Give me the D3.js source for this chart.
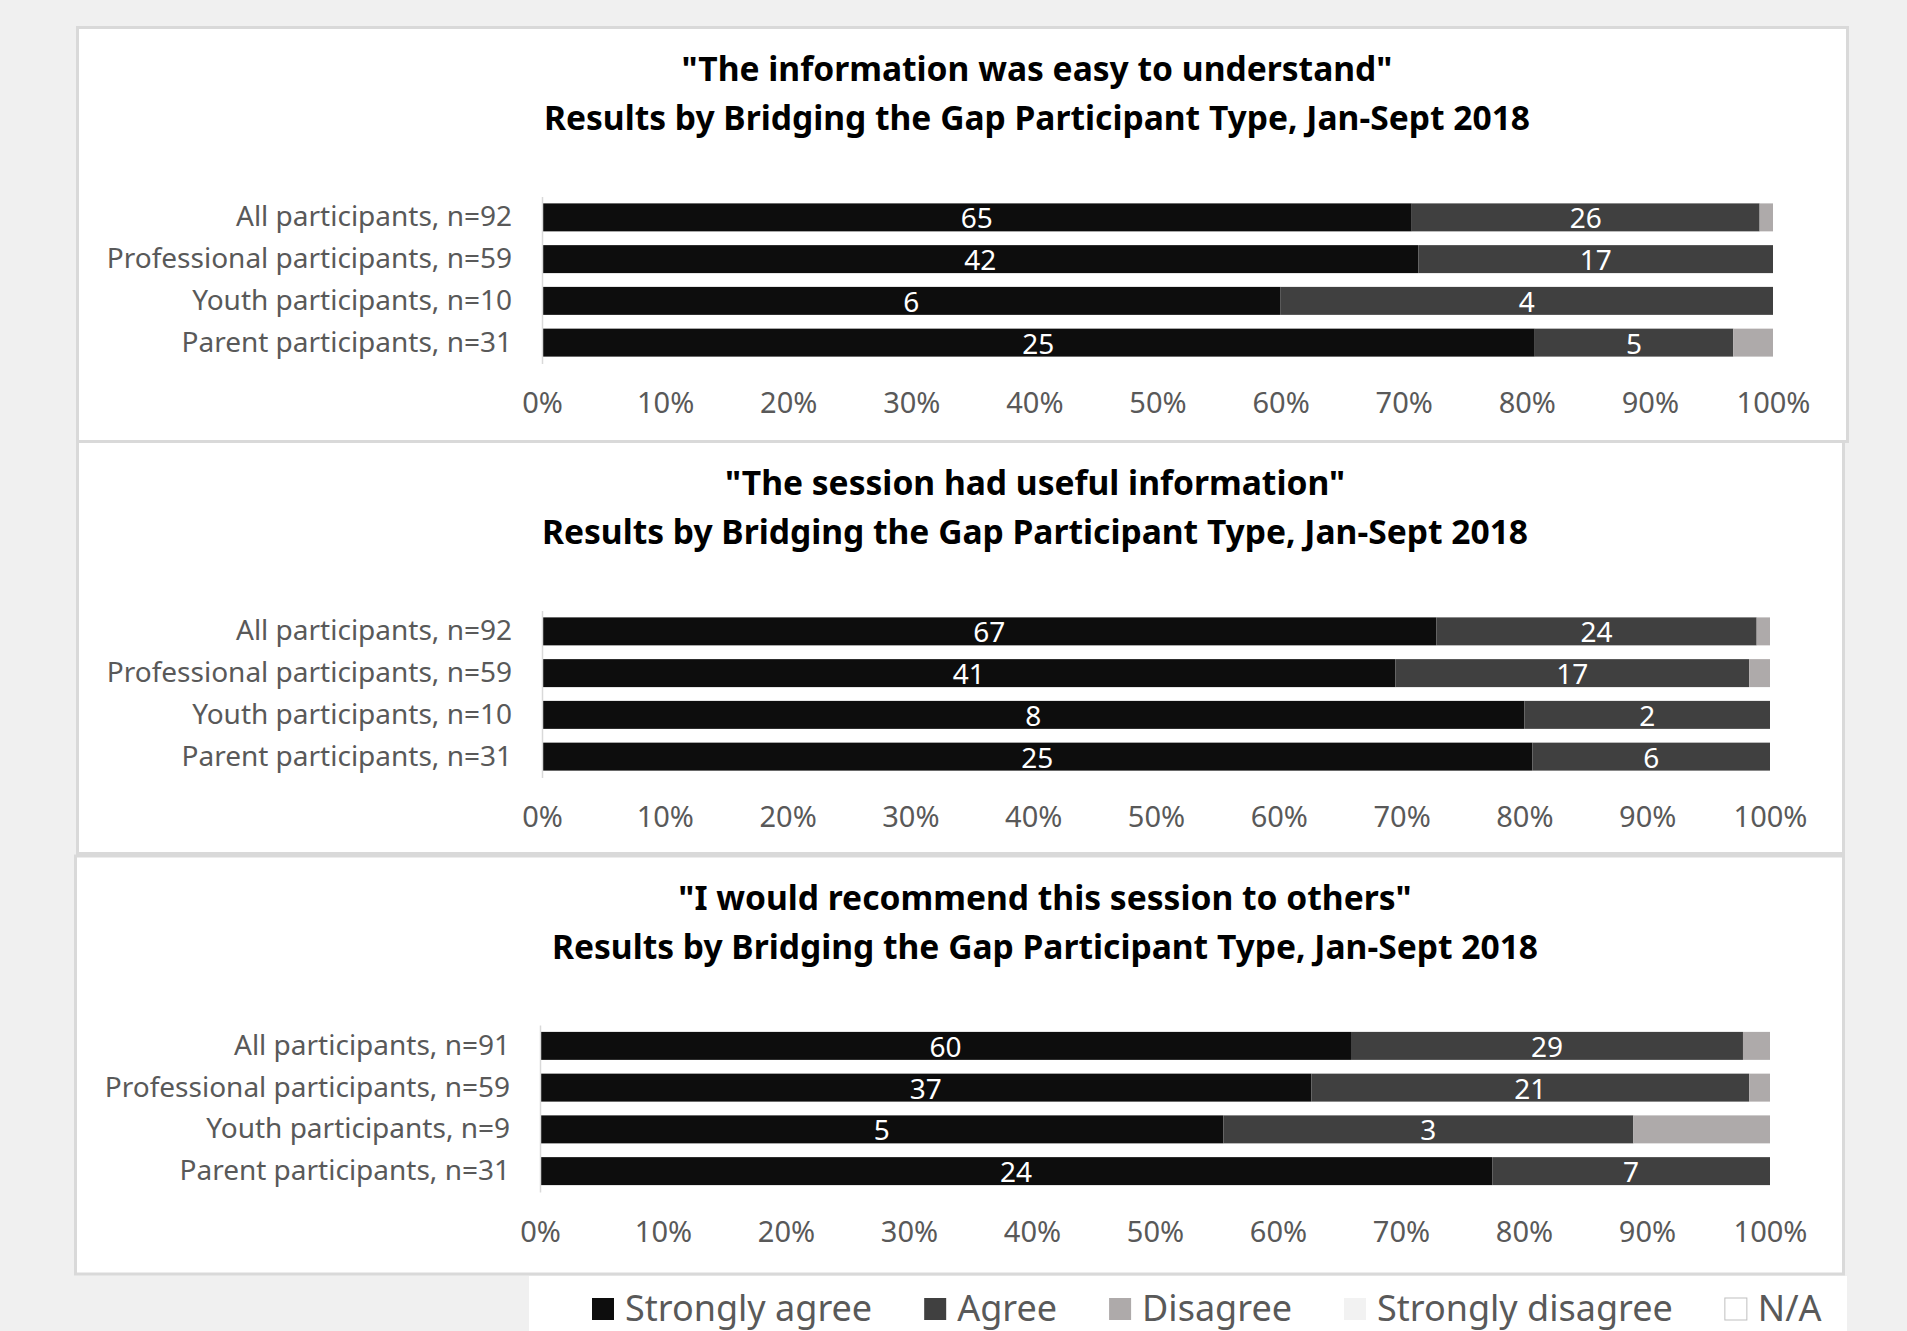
<!DOCTYPE html>
<html>
<head>
<meta charset="utf-8">
<script src="https://cdn.jsdelivr.net/npm/d3@7"></script>
<style>
  body { margin: 0; background: #f0f0f0; }
  svg { display: block; }
  text { font-family: "Noto Sans", "Open Sans", sans-serif; }
</style>
</head>
<body>
<div id="chart"></div>
<script>
// survey answers, counts per participant group
var series = ["Strongly agree", "Agree", "Disagree", "Strongly disagree", "N/A"];

var titles1 = ['"The information was easy to understand"', 'Results by Bridging the Gap Participant Type, Jan-Sept 2018'];
var categories1 = ["All participants, n=92", "Professional participants, n=59", "Youth participants, n=10", "Parent participants, n=31"];
var stronglyAgree1 = [65, 42, 6, 25];
var agree1 = [26, 17, 4, 5];
var disagree1 = [1, 0, 0, 1];
var stronglyDisagree1 = [0, 0, 0, 0];
var na1 = [0, 0, 0, 0];

var titles2 = ['"The session had useful information"', 'Results by Bridging the Gap Participant Type, Jan-Sept 2018'];
var categories2 = ["All participants, n=92", "Professional participants, n=59", "Youth participants, n=10", "Parent participants, n=31"];
var stronglyAgree2 = [67, 41, 8, 25];
var agree2 = [24, 17, 2, 6];
var disagree2 = [1, 1, 0, 0];
var stronglyDisagree2 = [0, 0, 0, 0];
var na2 = [0, 0, 0, 0];

var titles3 = ['"I would recommend this session to others"', 'Results by Bridging the Gap Participant Type, Jan-Sept 2018'];
var categories3 = ["All participants, n=91", "Professional participants, n=59", "Youth participants, n=9", "Parent participants, n=31"];
var stronglyAgree3 = [60, 37, 5, 24];
var agree3 = [29, 21, 3, 7];
var disagree3 = [2, 1, 1, 0];
var stronglyDisagree3 = [0, 0, 0, 0];
var na3 = [0, 0, 0, 0];

var tickValues = [0, 0.1, 0.2, 0.3, 0.4, 0.5, 0.6, 0.7, 0.8, 0.9, 1];

var colors = ["#0d0d0d", "#404040", "#aeaaaa", "#f2f2f2", "#ffffff"];

var width = 1907, height = 1331;

// panel boxes (layout only)
var panels = [
    {x: 77.5, y: 27.5, w: 1770, h: 414, x0: 542, x1: 1773, titleX: 1037,
     titles: titles1, cats: categories1, vals: [stronglyAgree1, agree1, disagree1, stronglyDisagree1, na1]},
    {x: 77.5, y: 441.5, w: 1766, h: 412, x0: 542, x1: 1770, titleX: 1035,
     titles: titles2, cats: categories2, vals: [stronglyAgree2, agree2, disagree2, stronglyDisagree2, na2]},
    {x: 75.5, y: 856, w: 1768, h: 418, x0: 540, x1: 1770, titleX: 1045,
     titles: titles3, cats: categories3, vals: [stronglyAgree3, agree3, disagree3, stronglyDisagree3, na3]}
];

var svg = d3.select("#chart").append("svg")
    .attr("width", width)
    .attr("height", height);

panels.forEach(function (p) {

    var g = svg.append("g");

    g.append("rect")
        .attr("x", p.x).attr("y", p.y)
        .attr("width", p.w).attr("height", p.h)
        .attr("fill", "#fff")
        .attr("stroke", "#d9d9d9")
        .attr("stroke-width", 3);

    g.selectAll(".title")
        .data(p.titles)
        .enter().append("text")
        .attr("class", "title")
        .attr("x", p.titleX)
        .attr("y", function (d, i) { return p.y + 42 + i * 49; })
        .attr("dy", "0.35em")
        .attr("text-anchor", "middle")
        .style("font-size", "33.6px")
        .style("font-weight", "bold")
        .style("fill", "#000")
        .text(function (d) { return d; });

    var rows = p.cats.map(function (c, i) {
        var r = {cat: c};
        series.forEach(function (s, k) { r[s] = p.vals[k][i]; });
        return r;
    });

    var stacked = d3.stack()
        .keys(series)
        .offset(d3.stackOffsetExpand)(rows);

    var top = p.y + 169;
    var y = d3.scaleBand()
        .domain(p.cats)
        .range([top, top + 167])
        .paddingInner(0.33)
        .paddingOuter(0.165);

    var x = d3.scaleLinear()
        .domain([0, 1])
        .range([p.x0, p.x1]);

    var layers = g.selectAll(".layer")
        .data(stacked)
        .enter().append("g")
        .attr("class", "layer")
        .attr("fill", function (d, i) { return colors[i]; });

    layers.selectAll("rect")
        .data(function (d) { return d; })
        .enter().append("rect")
        .attr("x", function (d) { return x(d[0]); })
        .attr("y", function (d) { return y(d.data.cat); })
        .attr("width", function (d) { return x(d[1]) - x(d[0]); })
        .attr("height", y.bandwidth());

    // only the two agree series carry labels
    layers.filter(function (d, i) { return i < 2; })
        .selectAll("text")
        .data(function (d) {
            return d.map(function (v) { return {v: v, n: v.data[d.key]}; });
        })
        .enter().append("text")
        .filter(function (d) { return d.n > 0; })
        .attr("x", function (d) { return (x(d.v[0]) + x(d.v[1])) / 2; })
        .attr("y", function (d) { return y(d.v.data.cat) + y.bandwidth() / 2 + 1; })
        .attr("dy", "0.36em")
        .attr("text-anchor", "middle")
        .style("font-size", "28px")
        .style("fill", "#fff")
        .text(function (d) { return d.n; });

    var yAxis = g.append("g")
        .attr("transform", "translate(" + p.x0 + ",0)")
        .call(d3.axisLeft(y).tickSize(0).tickPadding(30));
    yAxis.select(".domain").attr("stroke", "#d9d9d9").attr("stroke-width", 1.5);
    yAxis.selectAll("text")
        .style("font-size", "28px")
        .style("font-family", "Noto Sans")
        .style("fill", "#595959");

    var xAxis = g.append("g")
        .attr("transform", "translate(0," + (top + 167) + ")")
        .call(d3.axisBottom(x).tickValues(tickValues).tickFormat(d3.format(".0%")).tickSize(0).tickPadding(29));
    xAxis.select(".domain").remove();
    xAxis.selectAll("text")
        .style("font-size", "29px")
        .style("font-family", "Noto Sans")
        .style("fill", "#595959");
});

// legend box at the bottom
svg.append("rect")
    .attr("x", 529).attr("y", 1276)
    .attr("width", 1318).attr("height", 60)
    .attr("fill", "#fff");

var legend = svg.append("g").attr("transform", "translate(592,1308)");
var lx = 0;
series.forEach(function (s, i) {
    var item = legend.append("g").attr("transform", "translate(" + lx + ",0)");
    item.append("rect")
        .attr("x", 0).attr("y", -10)
        .attr("width", 22).attr("height", 22)
        .attr("fill", colors[i])
        .attr("stroke", i === 4 ? "#bfbfbf" : "none");
    var t = item.append("text")
        .attr("x", 33)
        .attr("dy", "0.36em")
        .style("font-size", "36px")
        .style("fill", "#595959")
        .text(s);
    lx += 33 + t.node().getComputedTextLength() + 52;
});
</script>
</body>
</html>
